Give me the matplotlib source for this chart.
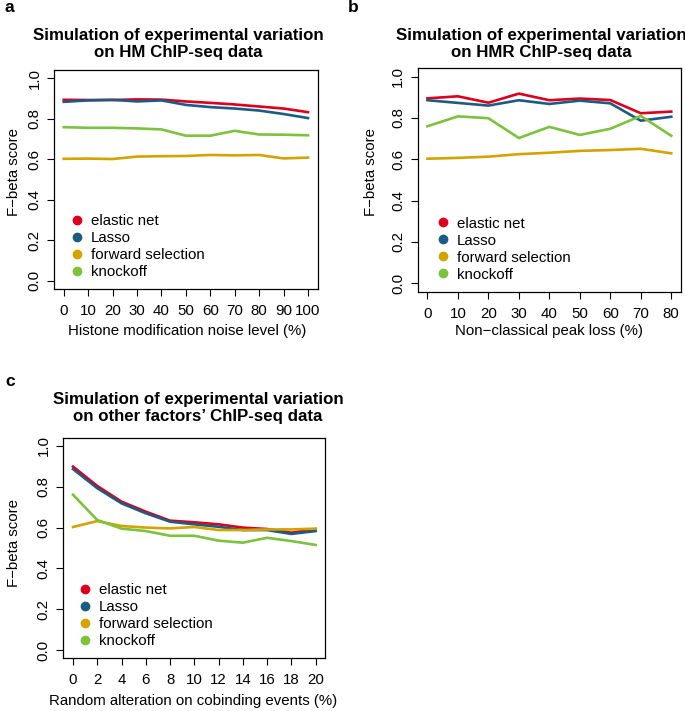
import matplotlib
matplotlib.use("Agg")
import matplotlib.pyplot as plt
from matplotlib.lines import Line2D

plt.rcParams['font.family'] = ['Liberation Sans', 'DejaVu Sans']

W, H = 685, 711

methods = ['elastic net', 'Lasso', 'forward selection', 'knockoff']
colors = ['#DC001C', '#1B5C84', '#D4A300', '#7CC23C']

# panel a: histone modification noise level
x_a = [0, 10, 20, 30, 40, 50, 60, 70, 80, 90, 100]
enet_a = [0.893, 0.892, 0.892, 0.895, 0.894, 0.885, 0.878, 0.870, 0.860, 0.850, 0.832]
lasso_a = [0.883, 0.890, 0.893, 0.885, 0.890, 0.868, 0.857, 0.850, 0.840, 0.823, 0.803]
fwd_a = [0.602, 0.603, 0.601, 0.613, 0.615, 0.616, 0.621, 0.619, 0.621, 0.604, 0.608]
knock_a = [0.758, 0.755, 0.755, 0.752, 0.747, 0.716, 0.716, 0.740, 0.722, 0.721, 0.718]

# panel b: non-classical peak loss
x_b = [0, 10, 20, 30, 40, 50, 60, 70, 80]
enet_b = [0.895, 0.905, 0.874, 0.918, 0.886, 0.894, 0.887, 0.823, 0.831]
lasso_b = [0.886, 0.873, 0.860, 0.886, 0.868, 0.884, 0.871, 0.787, 0.806]
fwd_b = [0.603, 0.607, 0.613, 0.625, 0.632, 0.641, 0.645, 0.651, 0.629]
knock_b = [0.760, 0.808, 0.799, 0.703, 0.757, 0.718, 0.748, 0.810, 0.714]

# panel c: random alteration on cobinding events
x_c = [0, 2, 4, 6, 8, 10, 12, 14, 16, 18, 20]
enet_c = [0.899, 0.804, 0.727, 0.678, 0.634, 0.626, 0.616, 0.600, 0.593, 0.575, 0.592]
lasso_c = [0.887, 0.793, 0.719, 0.670, 0.629, 0.616, 0.604, 0.588, 0.588, 0.569, 0.583]
fwd_c = [0.603, 0.632, 0.608, 0.600, 0.596, 0.603, 0.588, 0.588, 0.591, 0.591, 0.595]
knock_c = [0.761, 0.637, 0.595, 0.583, 0.560, 0.560, 0.536, 0.526, 0.550, 0.534, 0.515]

yticks = [0.0, 0.2, 0.4, 0.6, 0.8, 1.0]

fig = plt.figure(figsize=(W / 100, H / 100), dpi=100)


def px_axes(left, top, right, bottom):
    return fig.add_axes([left / W, 1 - bottom / H, (right - left) / W, (bottom - top) / H])


def panel(box, x, series, title, title_xy, xlabel, xlabel_xy, ylabel_xy, letter, letter_xy, leg_x):
    ax = px_axes(*box)
    for vals, c in zip(series, colors):
        ax.plot(x, vals, color=c, lw=1.9, solid_joinstyle='round')
    span = x[-1] - x[0]
    ax.set_xlim(x[0] - 0.04 * span, x[-1] + 0.04 * span)
    ax.set_ylim(-0.04, 1.04)
    ax.set_xticks(x)
    ax.set_yticks(yticks)
    ax.set_yticklabels(['%.1f' % v for v in yticks], rotation=90, va='center')
    ax.tick_params(length=5, width=0.8, labelsize=10.8)
    ax.tick_params(axis='x', pad=6)
    ax.tick_params(axis='y', pad=4)
    for s in ax.spines.values():
        s.set_linewidth(0.9)
    handles = [Line2D([], [], ls='', marker='o', ms=6, color=c) for c in colors]
    ax.legend(handles, methods, loc='lower left', bbox_to_anchor=(leg_x, 0.045),
              frameon=False, fontsize=10.8, handlelength=0.8, handletextpad=0.5,
              labelspacing=0.2, borderpad=0, borderaxespad=0)
    tx, ty = title_xy
    fig.text(tx / W, 1 - ty / H, title, ha='center', va='center',
             fontsize=12.2, fontweight='bold', linespacing=1.15)
    fig.text(xlabel_xy[0] / W, 1 - xlabel_xy[1] / H, xlabel, ha='center', va='center', fontsize=10.8)
    fig.text(ylabel_xy[0] / W, 1 - ylabel_xy[1] / H, 'F\u2212beta score', ha='center', va='center',
             rotation=90, fontsize=10.8)
    fig.text(letter_xy[0] / W, 1 - letter_xy[1] / H, letter, ha='center', va='center',
             fontsize=12.5, fontweight='bold')
    return ax


panel((54, 70, 317.7, 289), x_a, [enet_a, lasso_a, fwd_a, knock_a],
      'Simulation of experimental variation\non HM ChIP-seq data', (178, 44),
      'Histone modification noise level (%)', (187, 331), (14, 172), 'a', (9, 8), 0.065)

panel((417.7, 68.4, 681, 291.6), x_b, [enet_b, lasso_b, fwd_b, knock_b],
      'Simulation of experimental variation\non HMR ChIP-seq data', (541, 44),
      'Non\u2212classical peak loss (%)', (549, 331), (371, 172), 'b', (353, 8), 0.075)

panel((63.3, 437.8, 325.3, 658.2), x_c, [enet_c, lasso_c, fwd_c, knock_c],
      'Simulation of experimental variation\non other factors\u2019 ChIP-seq data', (198, 408),
      'Random alteration on cobinding events (%)', (193, 701), (14, 543), 'c', (10, 382), 0.06)

plt.savefig('out.png', dpi=100)
